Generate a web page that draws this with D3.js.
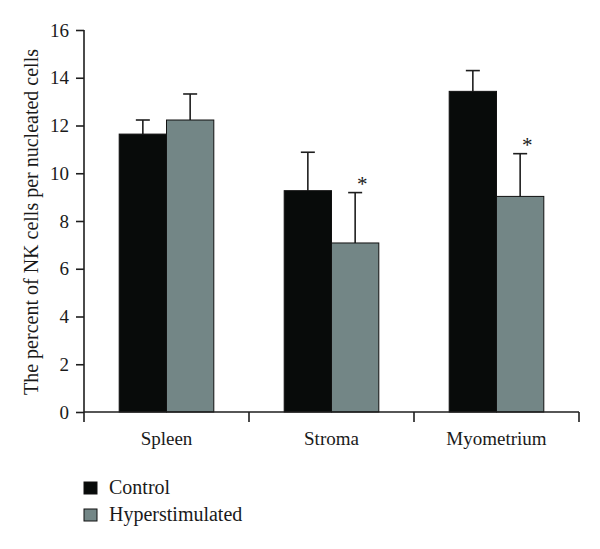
<!DOCTYPE html>
<html>
<head>
<meta charset="utf-8">
<script src="https://cdn.jsdelivr.net/npm/d3@7"></script>
<style>
  html, body { margin: 0; padding: 0; background: #fff; }
  svg { display: block; }
  svg text { font-family: "Liberation Serif", "DejaVu Serif", serif !important; fill: #1a1a1a; }
</style>
</head>
<body>
<svg id="chart" width="600" height="549"></svg>
<script>
const categories = ["Spleen", "Stroma", "Myometrium"];
const series = ["Control", "Hyperstimulated"];
const controlMean = [11.64, 9.27, 13.43];
const controlErr = [0.59, 1.61, 0.87];
const hyperMean = [12.23, 7.08, 9.03];
const hyperErr = [1.09, 2.11, 1.79];
const significant = [[false, false], [false, true], [false, true]];
const yTicks = [0, 2, 4, 6, 8, 10, 12, 14, 16];
const yLabel = "The percent of NK cells per nucleated cells";
const colors = ["#080b0a", "#738686"];

const svg = d3.select("#chart");
const y = d3.scaleLinear().domain([0, 16]).range([412, 30]);
const x0 = d3.scaleBand().domain(categories).range([84, 579]).padding(0);
const x1 = d3.scaleBand().domain(series).range([0, x0.bandwidth()]).paddingInner(0).paddingOuter(0.744);

const rows = [];
categories.forEach((c, i) => {
  rows.push({cat: c, s: series[0], v: controlMean[i], e: controlErr[i], sig: significant[i][0]});
  rows.push({cat: c, s: series[1], v: hyperMean[i], e: hyperErr[i], sig: significant[i][1]});
});
const color = d3.scaleOrdinal().domain(series).range(colors);

// error bars
const eb = svg.append("g").attr("stroke", "#1e1e1e").attr("stroke-width", 1.6);
rows.forEach(d => {
  const cx = x0(d.cat) + x1(d.s) + x1.bandwidth() / 2;
  eb.append("line").attr("x1", cx).attr("x2", cx).attr("y1", y(d.v)).attr("y2", y(d.v + d.e));
  eb.append("line").attr("x1", cx - 7).attr("x2", cx + 7).attr("y1", y(d.v + d.e)).attr("y2", y(d.v + d.e));
});

// bars
svg.append("g").selectAll("rect").data(rows).join("rect")
  .attr("x", d => x0(d.cat) + x1(d.s))
  .attr("y", d => y(d.v))
  .attr("width", x1.bandwidth())
  .attr("height", d => y(0) - y(d.v))
  .attr("fill", d => color(d.s))
  .attr("stroke", "#111")
  .attr("stroke-width", 1);

// asterisks
svg.append("g").selectAll("text").data(rows.filter(d => d.sig)).join("text")
  .attr("x", d => x0(d.cat) + x1(d.s) + x1.bandwidth() / 2 + 7)
  .attr("y", d => y(d.v + d.e) - 2)
  .attr("text-anchor", "middle")
  .style("font-size", "21px")
  .text("*");

// y axis
const yAxis = svg.append("g").attr("transform", "translate(84,0)")
  .call(d3.axisLeft(y).tickValues(yTicks).tickSize(8).tickPadding(7).tickFormat(d3.format("d")));
yAxis.attr("font-family", null).attr("font-size", null);
yAxis.selectAll("path, line").attr("stroke", "#1e1e1e").attr("stroke-width", 1.6);
yAxis.select(".domain").attr("d", "M0," + y(16) + "V" + y(0));
yAxis.selectAll("text").style("font-size", "19px").attr("fill", "#1a1a1a");

// x axis
const xAxis = svg.append("g").attr("transform", "translate(0,412)");
xAxis.append("line").attr("x1", 84).attr("x2", 579).attr("y1", 0).attr("y2", 0)
  .attr("stroke", "#1e1e1e").attr("stroke-width", 1.6);
const bounds = categories.map(c => x0(c)).concat([x0(categories[categories.length - 1]) + x0.bandwidth()]);
xAxis.selectAll("line.tk").data(bounds).join("line").attr("class", "tk")
  .attr("x1", d => d).attr("x2", d => d).attr("y1", 0).attr("y2", 10)
  .attr("stroke", "#1e1e1e").attr("stroke-width", 1.6);
xAxis.selectAll("text").data(categories).join("text")
  .attr("x", d => x0(d) + x0.bandwidth() / 2)
  .attr("y", 33)
  .attr("text-anchor", "middle")
  .style("font-size", "19px")
  .text(d => d);

// y label
svg.append("text")
  .attr("transform", "translate(38,222) rotate(-90)")
  .attr("text-anchor", "middle")
  .style("font-size", "20px")
  .text(yLabel);

// legend
const lg = svg.append("g");
series.forEach((s, i) => {
  const yy = 482 + i * 27;
  lg.append("rect").attr("x", 84).attr("y", yy).attr("width", 13).attr("height", 12)
    .attr("fill", colors[i]).attr("stroke", "#111").attr("stroke-width", 1);
  lg.append("text").attr("x", 109).attr("y", yy + 11.5).style("font-size", "20px").text(s);
});
</script>
</body>
</html>
